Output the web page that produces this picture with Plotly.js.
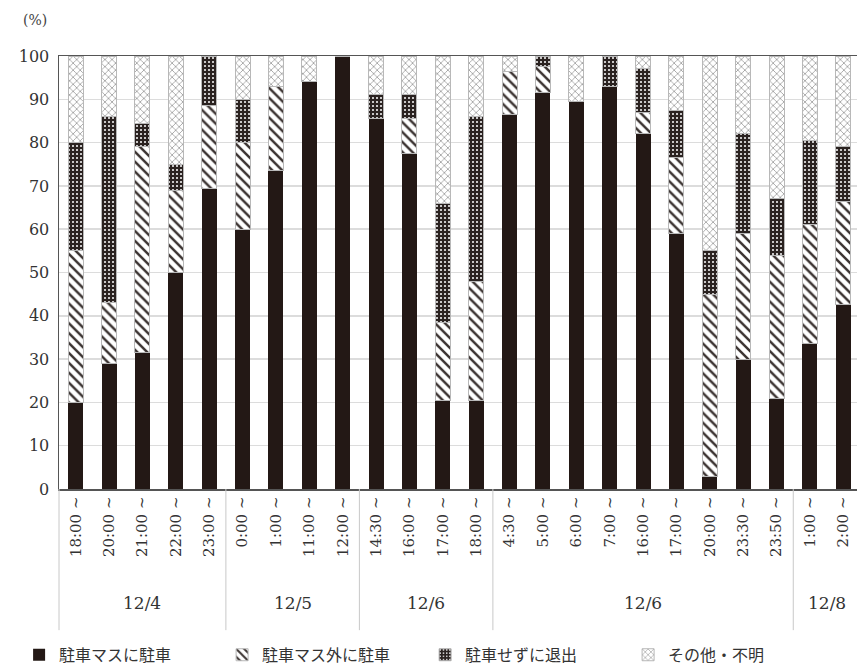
<!DOCTYPE html>
<html>
<head>
<meta charset="utf-8">
<script src="https://cdn.plot.ly/plotly-3.0.1.min.js"></script>
<style>html,body{margin:0;padding:0;background:#fff;}#chart{width:857px;height:670px;}</style>
</head>
<body>
<div id="chart"></div>
<script>
// Time-slot tick labels (one per bar)
const times = ["18:00 ~","20:00 ~","21:00 ~","22:00 ~","23:00 ~",
               "0:00 ~","1:00 ~","11:00 ~","12:00 ~",
               "14:30 ~","16:00 ~","17:00 ~","18:00 ~",
               "4:30 ~","5:00 ~","6:00 ~","7:00 ~","16:00 ~","17:00 ~","20:00 ~","23:30 ~","23:50 ~",
               "1:00 ~","2:00 ~"];
// Date groups
const groupLabels = ["12/4","12/5","12/6","12/6","12/8"];
const groupSizes  = [5, 4, 4, 9, 2];

// Series (%)
const inSpace    = [20, 29, 31.5, 50, 69.5, 60, 73.5, 94, 100, 85.5, 77.5, 20.5, 20.5, 86.5, 91.5, 89.5, 93, 82, 59, 3, 30, 21, 33.5, 42.5];
const outside    = [35, 14, 47.5, 19, 19, 20, 19.5, 0, 0, 0, 8, 18, 27.5, 10, 6, 0, 0, 5, 17.5, 42, 29, 33, 27.5, 24];
const noParking  = [25, 43, 5.5, 6, 11.5, 10, 0, 0, 0, 5.5, 5.5, 27.5, 38, 0, 2.5, 0, 7, 10, 11, 10, 23, 13, 19.5, 12.5];
const otherUnk   = [20, 14, 15.5, 25, 0, 10, 7, 6, 0, 9, 9, 34, 14, 3.5, 0, 10.5, 0, 3, 12.5, 45, 18, 33, 19.5, 21];

const seriesNames = ["駐車マスに駐車", "駐車マス外に駐車", "駐車せずに退出", "その他・不明"];

const xPos = times.map((t, i) => i);
const DARK = "#231815";
const SERIF = "'DejaVu Serif', 'Liberation Serif', serif";

const traces = [
  {type: "bar", name: seriesNames[0], x: xPos, y: inSpace,
   marker: {color: DARK, line: {width: 0}}},
  {type: "bar", name: seriesNames[1], x: xPos, y: outside,
   marker: {color: "#ffffff", line: {color: "#b8b8b8", width: 1},
            pattern: {shape: "\\", bgcolor: "#ffffff", fgcolor: "#3a3230", size: 7, solidity: 0.35}}},
  {type: "bar", name: seriesNames[2], x: xPos, y: noParking,
   marker: {color: DARK, line: {color: "#b8b8b8", width: 1},
            pattern: {shape: ".", bgcolor: "#2a2220", fgcolor: "#ffffff", size: 4, solidity: 0.2}}},
  {type: "bar", name: seriesNames[3], x: xPos, y: otherUnk,
   marker: {color: "#ffffff", line: {color: "#b8b8b8", width: 1},
            pattern: {shape: "x", bgcolor: "#ffffff", fgcolor: "#8a8a8a", size: 5, solidity: 0.25}}}
];

// group label annotations and divider shapes
const annotations = [];
const shapes = [];
let start = 0;
const divBottom = -0.326;
shapes.push({type: "line", xref: "paper", yref: "paper", x0: 0, x1: 0, y0: 0, y1: divBottom,
             line: {color: "#c8c8c8", width: 1}});
groupSizes.forEach((n, g) => {
  annotations.push({xref: "x", yref: "paper", x: start + (n - 1) / 2, y: -0.263,
                    text: groupLabels[g], showarrow: false, xanchor: "center", yanchor: "middle",
                    font: {family: SERIF, size: 17, color: "#333"}});
  start += n;
  if (g < groupSizes.length - 1) {
    shapes.push({type: "line", xref: "x", yref: "paper", x0: start - 0.5, x1: start - 0.5,
                 y0: 0, y1: divBottom, line: {color: "#c8c8c8", width: 1}});
  }
});
annotations.push({xref: "paper", yref: "paper", x: -0.047, y: 1.083, xanchor: "left", yanchor: "middle",
                  text: "(%)", showarrow: false,
                  font: {family: SERIF, size: 14, color: "#444"}});

const layout = {
  width: 857, height: 670,
  margin: {l: 59, r: 0, t: 56, b: 181, pad: 0, autoexpand: false},
  paper_bgcolor: "#fff", plot_bgcolor: "#fff",
  barmode: "stack",
  bargap: 0.55,
  showlegend: true,
  legend: {orientation: "h", x: -0.05, xanchor: "left", y: -0.383, yanchor: "middle",
           font: {family: "'Noto Sans CJK JP', sans-serif", size: 16, color: "#333"},
           itemwidth: 30, traceorder: "normal", entrywidth: 158, entrywidthmode: "pixels"},
  xaxis: {
    range: [-0.5, 23.41],
    tickmode: "array", tickvals: xPos, ticktext: times, tickangle: -90,
    ticks: "", showgrid: false, zeroline: false,
    showline: true, linecolor: "#555", linewidth: 1.5, mirror: true,
    tickfont: {family: SERIF, size: 15, color: "#333"},
    fixedrange: true
  },
  yaxis: {
    range: [0, 100], dtick: 10, tick0: 0,
    showgrid: true, gridcolor: "#dcdcdc", gridwidth: 1.5,
    zeroline: false, showline: true, linecolor: "#555", linewidth: 1.5,
    ticks: "", ticklabelstandoff: 5,
    tickfont: {family: SERIF, size: 16, color: "#333"},
    fixedrange: true
  },
  annotations: annotations,
  shapes: shapes
};

Plotly.newPlot("chart", traces, layout, {displayModeBar: false, staticPlot: true});
</script>
</body>
</html>
